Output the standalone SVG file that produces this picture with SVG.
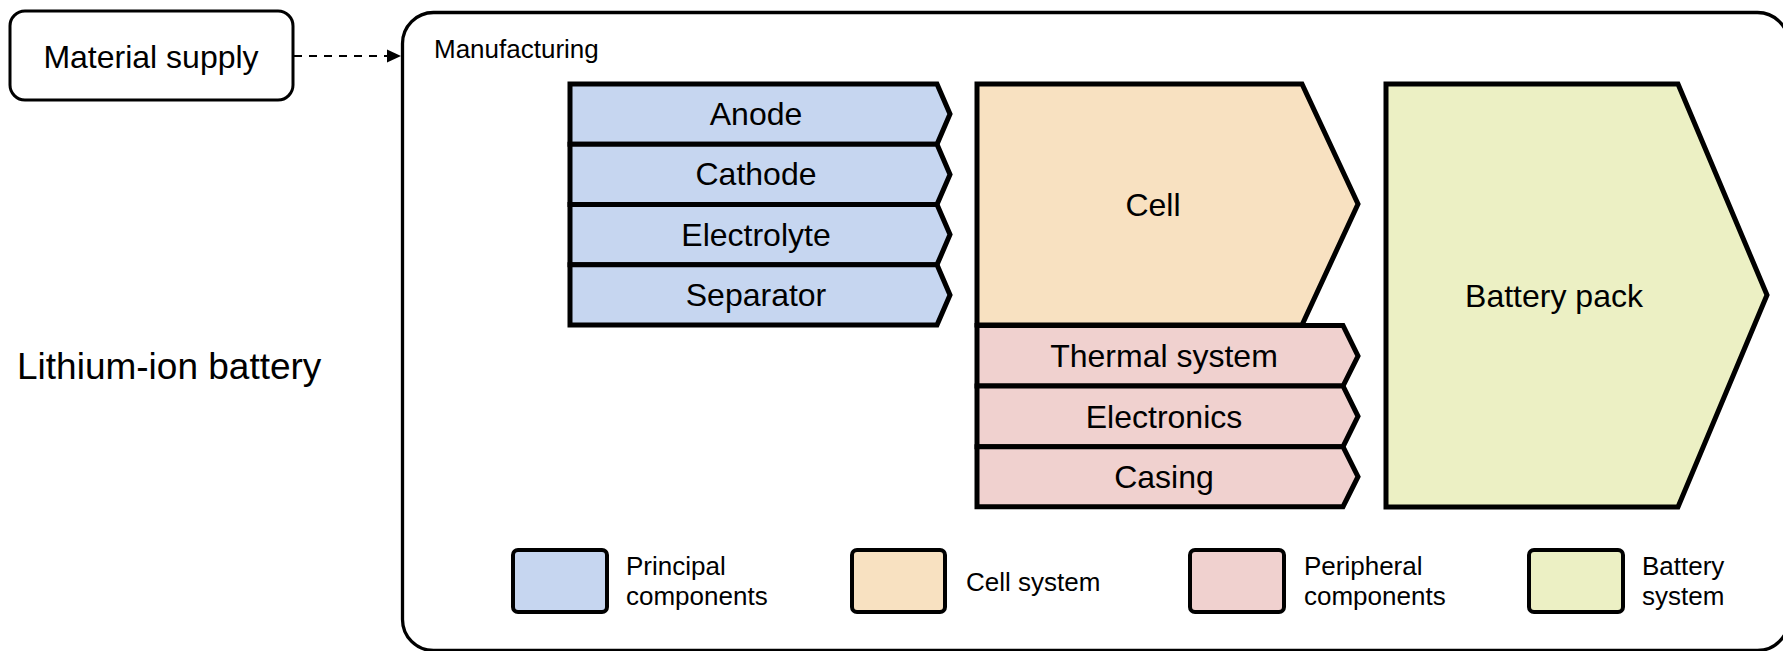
<svg xmlns="http://www.w3.org/2000/svg" width="1783" height="651" viewBox="0 0 1783 651">
<defs>
<style>
text{font-family:"Liberation Sans",Arial,sans-serif;fill:#000}
.big{font-size:32px;text-anchor:middle}
.sm{font-size:26px}
.blue{fill:#C6D6F0;stroke:#000;stroke-width:5}
.org{fill:#F8E1C1;stroke:#000;stroke-width:5}
.pink{fill:#F0D1CF;stroke:#000;stroke-width:5}
.grn{fill:#ECF0C4;stroke:#000;stroke-width:5}
.leg{stroke-width:4}
</style>
<marker id="ah" viewBox="0 0 10 10" refX="10" refY="5" markerWidth="10" markerHeight="10" markerUnits="userSpaceOnUse" orient="auto">
<path d="M0,0 L10,5 L0,10 Z" fill="#000"/>
</marker>
</defs>
<rect width="1783" height="651" fill="#fff"/>

<g id="material-supply">
<rect x="10" y="11" width="283" height="89" rx="15" fill="#fff" stroke="#000" stroke-width="3"/>
<text class="big" x="151" y="68">Material supply</text>
</g>

<text id="title" x="17" y="379" style="font-size:37px">Lithium-ion battery</text>

<g id="manufacturing">
<rect x="402.5" y="12.5" width="1386" height="638" rx="31" fill="#fff" stroke="#000" stroke-width="3.3"/>
<text class="sm" x="434" y="58">Manufacturing</text>
</g>

<g id="connectors">
<line x1="294" y1="56" x2="388" y2="56" stroke="#000" stroke-width="2" stroke-dasharray="8,7"/>
<path d="M387,49.5 L401,56 L387,62.5 Z" fill="#000"/>
</g>

<g id="anode">
<path class="blue" d="M570,84 L937,84 L950,114 L937,144.3 L570,144.3 Z"/>
<text class="big" x="756" y="125">Anode</text>
</g>
<g id="cathode">
<path class="blue" d="M570,144.3 L937,144.3 L950,174.4 L937,204.5 L570,204.5 Z"/>
<text class="big" x="756" y="185">Cathode</text>
</g>
<g id="electrolyte">
<path class="blue" d="M570,204.5 L937,204.5 L950,234.6 L937,264.8 L570,264.8 Z"/>
<text class="big" x="756" y="245.5">Electrolyte</text>
</g>
<g id="separator">
<path class="blue" d="M570,264.8 L937,264.8 L950,295 L937,325 L570,325 Z"/>
<text class="big" x="756" y="306">Separator</text>
</g>

<g id="cell">
<path class="org" d="M977,84 L1302,84 L1358,204 L1302,325 L977,325 Z"/>
<text class="big" x="1153" y="215.5">Cell</text>
</g>
<g id="thermal-system">
<path class="pink" d="M977,325.5 L1343,325.5 L1358,356 L1343,386 L977,386 Z"/>
<text class="big" x="1164" y="367">Thermal system</text>
</g>
<g id="electronics">
<path class="pink" d="M977,386 L1343,386 L1358,416.3 L1343,446.7 L977,446.7 Z"/>
<text class="big" x="1164" y="428">Electronics</text>
</g>
<g id="casing">
<path class="pink" d="M977,446.7 L1343,446.7 L1358,476.7 L1343,506.7 L977,506.7 Z"/>
<text class="big" x="1164" y="488">Casing</text>
</g>

<g id="battery-pack">
<path class="grn" d="M1386,84 L1678,84 L1767,295 L1678,507 L1386,507 Z"/>
<text class="big" x="1554" y="307">Battery pack</text>
</g>

<g id="legend-principal">
<rect class="blue leg" x="513" y="550" width="94" height="62" rx="5"/>
<text class="sm" x="626" y="575">Principal</text>
<text class="sm" x="626" y="605">components</text>
</g>
<g id="legend-cell">
<rect class="org leg" x="852" y="550" width="93" height="62" rx="5"/>
<text class="sm" x="966" y="591">Cell system</text>
</g>
<g id="legend-peripheral">
<rect class="pink leg" x="1190" y="550" width="94" height="62" rx="5"/>
<text class="sm" x="1304" y="575">Peripheral</text>
<text class="sm" x="1304" y="605">components</text>
</g>
<g id="legend-battery">
<rect class="grn leg" x="1529" y="550" width="94" height="62" rx="5"/>
<text class="sm" x="1642" y="575">Battery</text>
<text class="sm" x="1642" y="605">system</text>
</g>
</svg>
